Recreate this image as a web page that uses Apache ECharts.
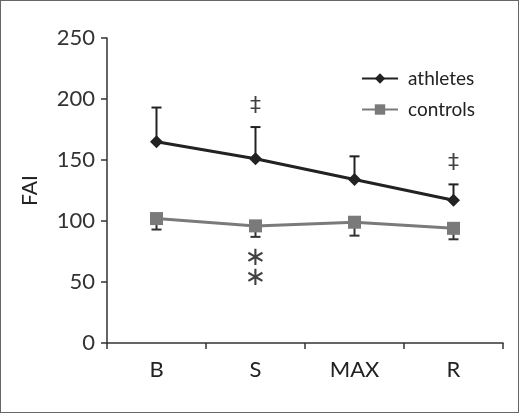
<!DOCTYPE html>
<html><head><meta charset="utf-8">
<script src="https://cdn.jsdelivr.net/npm/echarts@6/dist/echarts.min.js"></script>
<style>
html,body{margin:0;padding:0;background:#fff;}
#c{width:517px;height:411px;border:1px solid #666;}
</style></head>
<body><div id="c"></div>
<script>
const categories = ['B', 'S', 'MAX', 'R'];
const athletesMean = [165, 151, 134, 117];
const athletesUpper = [193, 177, 153, 130];
const controlsMean = [102, 96, 99, 94];
const controlsLower = [93, 87, 88, 85];
const daggerMarks = [['S', 194], ['R', 147]];
const starMarks = [['S', 71], ['S', 55]];
const yTicks = [0, 50, 100, 150, 200, 250];

const chart = echarts.init(document.getElementById('c'));
const font = 'Lato';
function errBar(color) {
  return function (params, api) {
    const i = api.value(0);
    const a = api.coord([i, api.value(1)]);
    const b = api.coord([i, api.value(2)]);
    const hw = 5;
    const st = { stroke: color, lineWidth: 2 };
    return { type: 'group', children: [
      { type: 'line', shape: { x1: a[0], y1: a[1], x2: b[0], y2: b[1] }, style: st },
      { type: 'line', shape: { x1: b[0] - hw, y1: b[1], x2: b[0] + hw, y2: b[1] }, style: st }
    ]};
  };
}
chart.setOption({
  animation: false,
  grid: { left: 106, top: 37, right: 15, bottom: 69, containLabel: false },
  legend: {
    orient: 'vertical', left: 355, top: 63, itemGap: 12, itemWidth: 36, itemHeight: 13,
    textStyle: { fontFamily: font, fontSize: 19, color: '#222', padding: [0, 0, 0, 5] },
    data: ['athletes', 'controls']
  },
  xAxis: {
    type: 'category', data: categories, boundaryGap: true,
    axisLine: { lineStyle: { color: '#333', width: 1.5 } },
    axisTick: { show: true, length: 6, lineStyle: { color: '#333', width: 1.5 } },
    axisLabel: { fontFamily: font, fontSize: 22, color: '#222', margin: 16 }
  },
  yAxis: {
    type: 'value', min: yTicks[0], max: yTicks[yTicks.length - 1], interval: 50,
    name: 'FAI', nameLocation: 'middle', nameGap: 66,
    nameTextStyle: { fontFamily: font, fontSize: 21, color: '#222' },
    splitLine: { show: false },
    axisLine: { show: true, lineStyle: { color: '#333', width: 1.5 } },
    axisTick: { show: true, length: 6, lineStyle: { color: '#333', width: 1.5 } },
    axisLabel: { fontFamily: font, fontSize: 22, color: '#333', margin: 12 }
  },
  series: [
    { type: 'custom', name: 'athErr', renderItem: errBar('#222'), z: 1,
      data: athletesMean.map((m, i) => [i, m, athletesUpper[i]]) },
    { type: 'custom', name: 'ctlErr', renderItem: errBar('#333'), z: 1,
      data: controlsMean.map((m, i) => [i, m, controlsLower[i]]) },
    { type: 'line', name: 'controls', data: controlsMean, symbol: 'rect', symbolSize: 13,
      lineStyle: { color: '#7a7a7a', width: 3 }, itemStyle: { color: '#7a7a7a' }, z: 3 },
    { type: 'line', name: 'athletes', data: athletesMean, symbol: 'diamond', symbolSize: 13,
      lineStyle: { color: '#222', width: 3 }, itemStyle: { color: '#222' }, z: 4 },
    { type: 'scatter', symbolSize: 0, silent: true, data: daggerMarks,
      label: { show: true, position: 'inside', formatter: '‡', fontFamily: 'DejaVu Sans', fontSize: 22, color: '#111' } },
    { type: 'scatter', symbolSize: 0, silent: true, data: starMarks,
      label: { show: true, position: 'inside', formatter: '∗', fontFamily: 'DejaVu Sans', fontSize: 26, color: '#111', offset: [0, 2] } }
  ]
});
</script></body></html>
